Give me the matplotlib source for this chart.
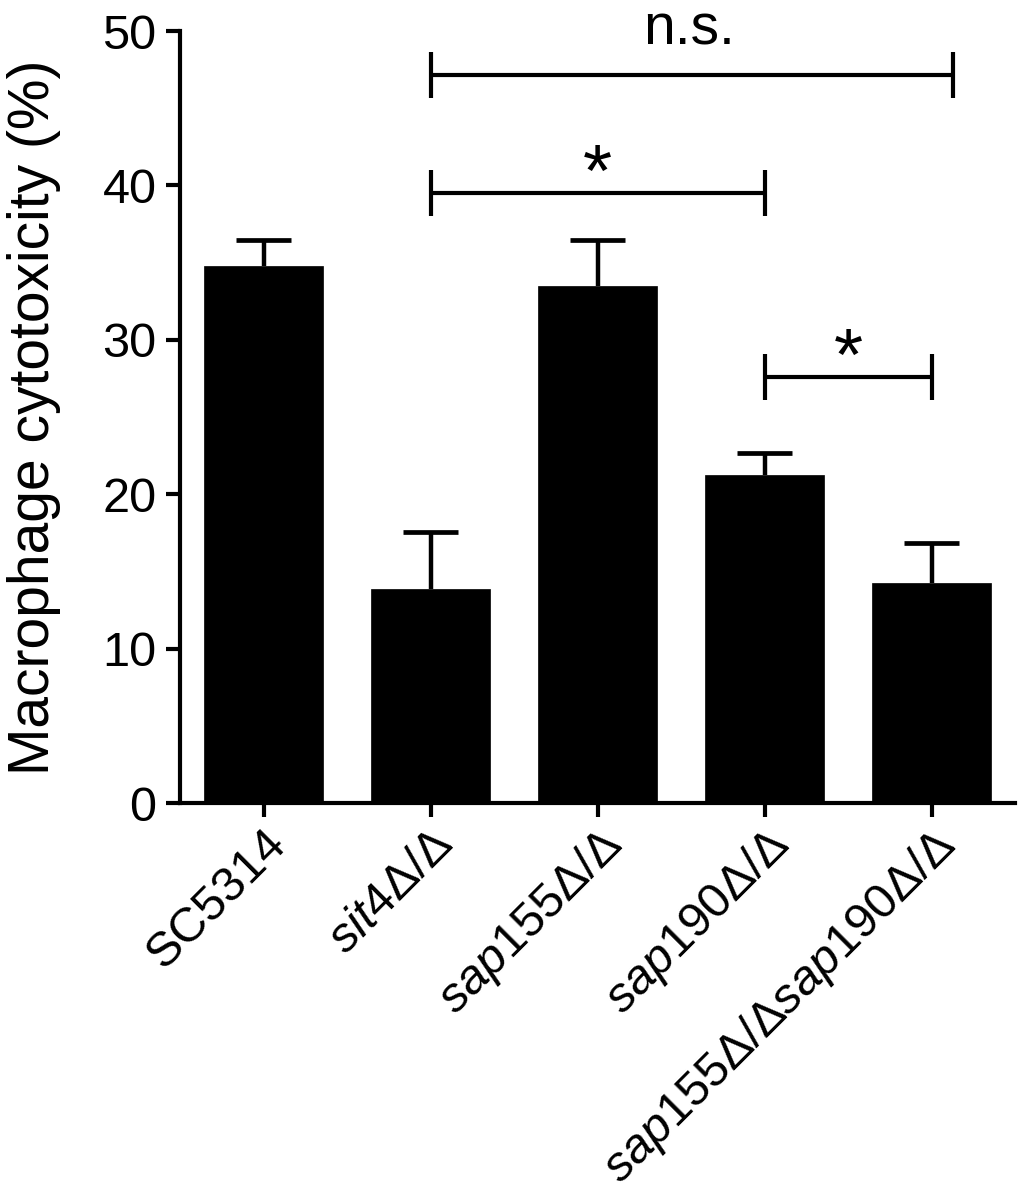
import matplotlib
matplotlib.use("Agg")
import matplotlib.pyplot as plt

plt.rcParams['font.family'] = ['Liberation Sans', 'DejaVu Sans']
plt.rcParams['mathtext.fontset'] = 'custom'
plt.rcParams['mathtext.rm'] = 'Liberation Sans'
plt.rcParams['mathtext.it'] = 'Liberation Sans:italic'

categories = [r"SC5314", r"$\mathit{sit4}\mathrm{Δ/Δ}$", r"$\mathit{sap155}\mathrm{Δ/Δ}$",
              r"$\mathit{sap190}\mathrm{Δ/Δ}$", r"$\mathit{sap155}\mathrm{Δ/Δ}\mathit{sap190}\mathrm{Δ/Δ}$"]
values = [34.8, 13.85, 33.5, 21.25, 14.25]
errors = [1.7, 3.7, 3.0, 1.4, 2.6]
yticks = [0, 10, 20, 30, 40, 50]
# significance brackets: (left, right, height, label)
brk_left = [1, 1, 3]
brk_right = [4.13, 3, 4]
brk_y = [47.15, 39.5, 27.6]
brk_label = ["n.s.", "*", "*"]

fig = plt.figure(figsize=(10.24, 12.0), dpi=100)
ax = fig.add_axes([0.1758, 0.3308, 0.8155, 0.6433])

x = list(range(len(categories)))
tops = [v + e for v, e in zip(values, errors)]
ax.bar(x, values, width=0.71, color='black', edgecolor='black', linewidth=0.5, zorder=2)
ax.vlines(x, values, tops, color='black', lw=3.2, zorder=3)
ax.hlines(tops, [i - 0.163 for i in x], [i + 0.163 for i in x], color='black', lw=3.4, zorder=3)

ax.set_xlim(-0.5, 4.5)
ax.set_ylim(0, 50)
ax.set_yticks(yticks)
ax.set_xticks(x)
ax.set_xticklabels(categories, rotation=45, ha='right', va='top', rotation_mode='anchor', fontsize=35)
ax.tick_params(axis='y', labelsize=35, width=3, length=10, pad=7)
ax.tick_params(axis='x', width=3, length=10, pad=3)
for s in ['top', 'right']:
    ax.spines[s].set_visible(False)
for s in ['left', 'bottom']:
    ax.spines[s].set_linewidth(3)
ax.set_ylabel("Macrophage cytotoxicity (%)", fontsize=41, labelpad=30)

for l, r, h, lab in zip(brk_left, brk_right, brk_y, brk_label):
    ax.plot([l, r], [h, h], color='black', lw=3, clip_on=False, solid_capstyle='butt')
    ax.plot([l, l], [h - 1.5, h + 1.5], color='black', lw=3, clip_on=False, solid_capstyle='butt')
    ax.plot([r, r], [h - 1.5, h + 1.5], color='black', lw=3, clip_on=False, solid_capstyle='butt')
    if lab == "n.s.":
        ax.text(2.55, h + 1.95, lab, ha='center', va='baseline', fontsize=41, clip_on=False)
    else:
        ax.text((l + r) / 2, h - 0.2, lab, ha='center', va='baseline', fontsize=54, clip_on=False)

fig.savefig("out.png", dpi=100)
